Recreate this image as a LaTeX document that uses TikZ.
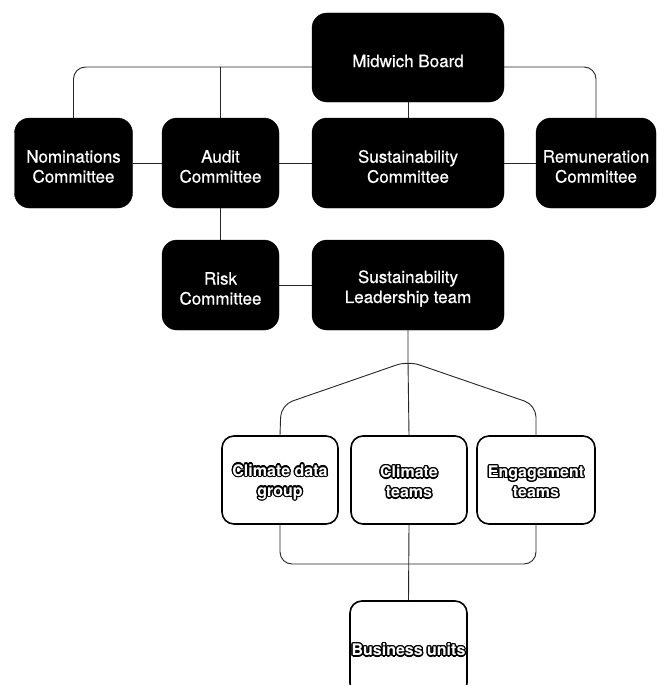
\documentclass[tikz,border=0pt]{standalone}
\usepackage{fontspec}
\setmainfont{TeX Gyre Heros}
\newfontfamily\boxfont{TeX Gyre Heros}[FakeBold=0.6]
\usepackage{contour}
\contourlength{1.3pt}
\begin{document}
\begin{tikzpicture}[x=1pt,y=-1pt,
  darktext/.style={text=white,align=center,inner sep=0pt,yshift=-3.5pt,
    font=\boxfont\fontsize{17}{20}\selectfont},
  lighttext/.style={text=white,align=center,inner sep=0pt,yshift=-2.5pt,
    font=\bfseries\fontsize{16}{20}\selectfont},
  darkbox/.style={draw=black,fill=black,rounded corners=15pt,
    minimum height=90pt,label={[darktext]center:#1}},
  lightbox/.style={draw=black,line width=1.6pt,fill=white,
    rounded corners=12pt,minimum width=116pt,minimum height=88pt,
    label={[lighttext]center:#1}},
  link/.style={draw=black!85,line width=0.9pt},
  elbow/.style={link,rounded corners=12pt}]
\useasboundingbox (0,0) rectangle (657,685);
\clip (0,0) rectangle (657,685);
\fill[white] (0,0) rectangle (657,685);

% junction points
\coordinate (bj) at (408,67);
\coordinate (roofl) at (281,405);
\coordinate (apex) at (408,361);
\coordinate (roofr) at (536,405);
\coordinate (base) at (408,564);

% governance boxes
\node[darkbox={Midwich Board},minimum width=192pt,minimum height=89pt] (board) at (408,57.5) {};
\node[darkbox={Nominations\\Committee},minimum width=118pt] (nom) at (73.5,163) {};
\node[darkbox={Audit\\Committee},minimum width=117pt] (audit) at (220.5,163) {};
\node[darkbox={Sustainability\\Committee},minimum width=192pt] (susc) at (408,163) {};
\node[darkbox={Remuneration\\Committee},minimum width=120pt] (rem) at (596,163) {};
\node[darkbox={Risk\\Committee},minimum width=117pt] (risk) at (220.5,285) {};
\node[darkbox={Sustainability\\Leadership team},minimum width=192pt] (slt) at (408,285) {};

% working groups, lettered in white with a black contour
\node[lightbox={\contour{black}{Climate data}\\\contour{black}{group}}] (cdg) at (280,480) {};
\node[lightbox={\contour{black}{Climate}\\\contour{black}{teams}}] (ct) at (409,480) {};
\node[lightbox={\contour{black}{Engagement}\\\contour{black}{teams}},minimum width=118pt] (eng) at (536,480) {};
\node[lightbox={\contour{black}{Business units}},minimum width=117pt,minimum height=94pt] (bu) at (408.5,648) {};

% connectors
\path[elbow] (board.west |- bj) -| (nom.north);
\path[elbow] (board.east |- bj) -| (rem.north);
\path[link] (audit.north) -- (audit.north |- bj);
\path[link] (board.south) -- (susc.north);
\path[link] (nom) -- (audit);
\path[link] (audit) -- (susc);
\path[link] (susc) -- (rem);
\path[link] (audit.south) -- (risk.north);
\path[link] (risk) -- (slt);
\path[link] (slt.south) -- (apex) -- (ct.north);
\path[elbow] (cdg.north) -- (roofl) -- (apex) -- (roofr) -- (eng.north);
\path[elbow] (cdg.south) |- (base) -| (eng.south);
\path[link] (ct.south) -- (bu.north);
\end{tikzpicture}
\end{document}
